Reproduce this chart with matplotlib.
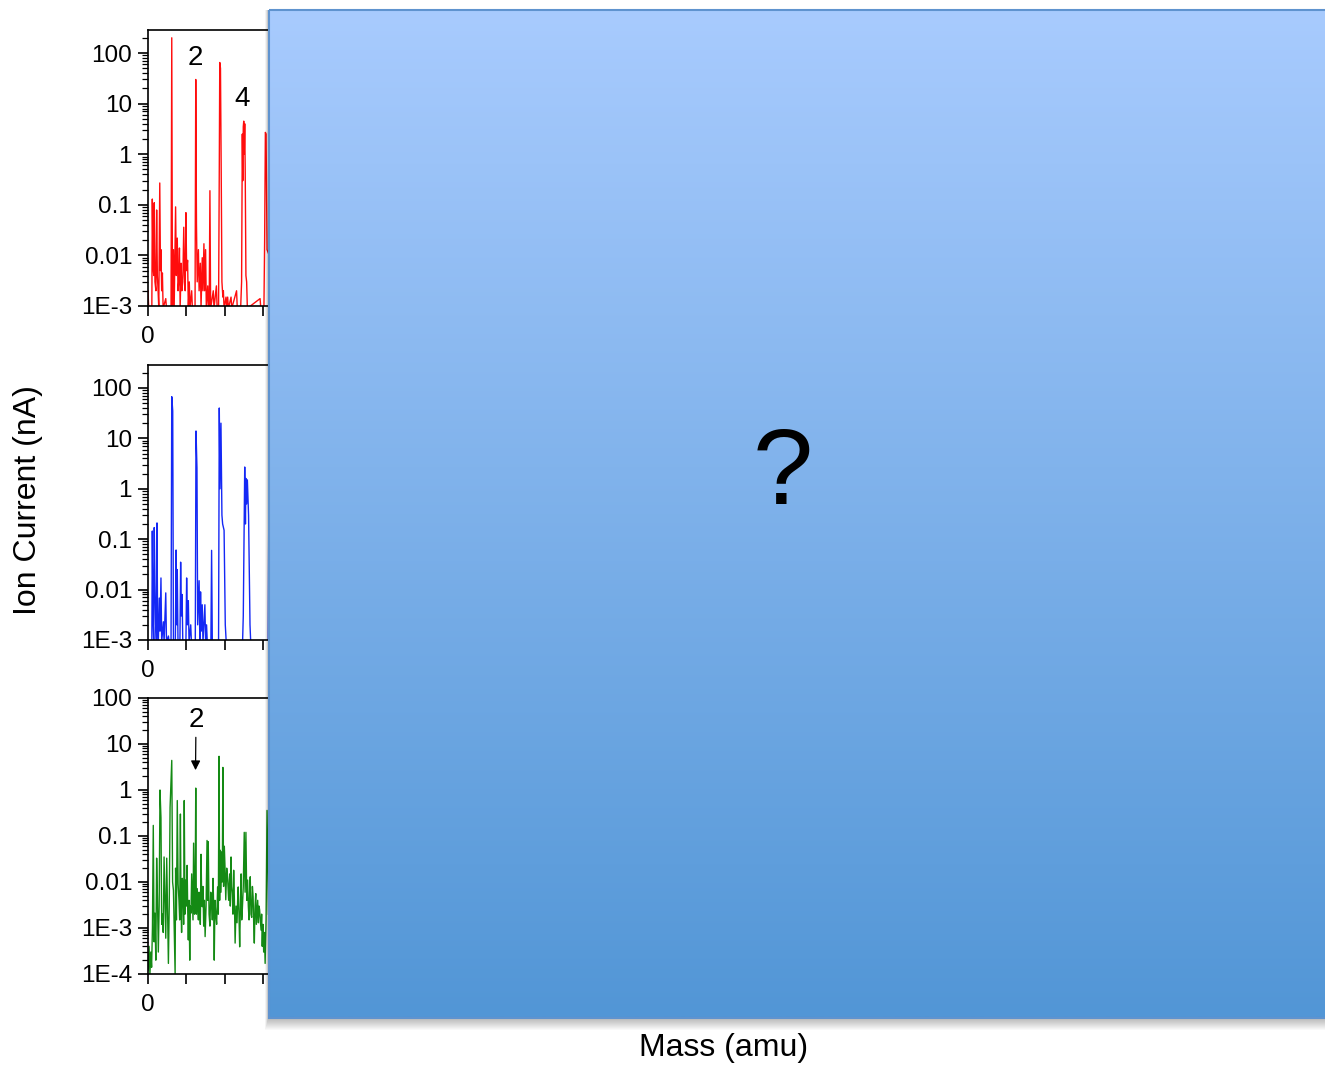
import numpy as np
import matplotlib.pyplot as plt
from matplotlib.ticker import FixedLocator, LogLocator, MultipleLocator, NullFormatter, FuncFormatter
from matplotlib.patches import Rectangle

plt.rcParams['font.family'] = ['Liberation Sans', 'DejaVu Sans']

# visible part of the three mass scans (mass in amu, ion current in nA)
red_mass = [0.00, 0.03, 0.16, 0.18, 0.21, 0.24, 0.26, 0.29, 0.33, 0.36, 0.39, 0.42, 0.45, 0.49,
            0.52, 0.54, 0.57, 0.60, 0.63, 0.74, 0.77, 0.96, 0.99, 1.02, 1.06, 1.09, 1.15, 1.18,
            1.22, 1.25, 1.28, 1.31, 1.34, 1.38, 1.41, 1.45, 1.49, 1.52, 1.55, 1.58, 1.61, 1.65,
            1.68, 1.72, 1.75, 1.82, 1.85, 1.96, 1.99, 2.02, 2.05, 2.10, 2.13, 2.18, 2.21, 2.26,
            2.29, 2.33, 2.36, 2.40, 2.43, 2.49, 2.52, 2.55, 2.58, 2.61, 2.72, 2.75, 2.85, 2.88,
            2.94, 2.97, 2.99, 3.02, 3.05, 3.08, 3.12, 3.14, 3.17, 3.25, 3.28, 3.32, 3.35, 3.46,
            3.49, 3.69, 3.72, 3.86, 3.90, 3.93, 3.95, 3.97, 3.99, 4.01, 4.03, 4.05, 4.08, 4.11, 4.14, 4.67,
            4.70, 4.83, 4.86, 4.89, 4.92, 4.96, 5.05]
red_curr = [0.002, 9e-4, 9e-4, 0.13, 0.006, 0.004, 0.11, 0.003, 0.002, 0.079, 0.004, 0.002, 9e-4, 0.27,
            0.005, 0.013, 0.002, 0.0045, 9e-4, 0.0014, 9e-4, 9e-4, 200, 9e-4, 0.013, 9e-4, 0.091, 0.004,
            0.022, 0.002, 0.003, 0.014, 9e-4, 0.007, 0.002, 0.003, 0.036, 0.004, 0.002, 0.07, 0.005, 0.008,
            9e-4, 0.003, 9e-4, 0.002, 9e-4, 9e-4, 30, 0.04, 0.003, 0.013, 0.002, 0.007, 9e-4, 0.009,
            0.002, 0.017, 0.002, 0.013, 9e-4, 0.0025, 9e-4, 9e-4, 0.19, 9e-4, 0.002, 9e-4, 0.0025, 9e-4,
            9e-4, 0.5, 65, 50, 0.5, 0.003, 0.0015, 0.002, 9e-4, 0.0015, 9e-4, 0.0015, 9e-4, 0.0015,
            9e-4, 0.002, 9e-4, 9e-4, 0.003, 2.5, 0.3, 3.5, 4.5, 1.0, 4.0, 0.5, 0.004, 0.003, 9e-4, 0.0014,
            9e-4, 9e-4, 0.02, 2.7, 2.5, 0.013, 0.01]

blue_mass = [0.00, 0.16, 0.18, 0.21, 0.24, 0.26, 0.29, 0.32, 0.35, 0.375, 0.40, 0.43, 0.47, 0.50,
             0.54, 0.57, 0.64, 0.67, 0.74, 0.77, 0.85, 0.88, 0.96, 0.99, 1.03, 1.06, 1.14, 1.17,
             1.20, 1.22, 1.25, 1.33, 1.36, 1.39, 1.42, 1.45, 1.58, 1.61, 1.64, 1.68, 1.71, 1.78,
             1.81, 1.97, 2.00, 2.04, 2.07, 2.13, 2.16, 2.19, 2.22, 2.26, 2.29, 2.37, 2.40, 2.44,
             2.47, 2.62, 2.65, 2.68, 2.94, 2.97, 3.00, 3.04, 3.08, 3.11, 3.17, 3.22, 3.26, 3.94, 3.97,
             4.03, 4.06, 4.08, 4.11, 4.14, 4.19, 4.25, 4.28, 5.01, 5.04, 5.08]
blue_curr = [9e-4, 9e-4, 0.145, 0.003, 9e-4, 0.17, 0.015, 0.002, 9e-4, 0.21, 0.002, 9e-4, 0.0068, 0.0015,
             0.017, 9e-4, 0.0023, 9e-4, 0.0086, 9e-4, 0.0012, 9e-4, 9e-4, 67, 35, 9e-4, 9e-4, 0.061,
             0.002, 0.025, 9e-4, 9e-4, 0.035, 0.003, 0.008, 9e-4, 9e-4, 0.017, 0.002, 0.006, 9e-4, 0.002,
             9e-4, 9e-4, 14, 2.6, 0.002, 0.015, 9e-4, 0.009, 0.0015, 0.005, 9e-4, 0.005, 9e-4, 0.002,
             9e-4, 9e-4, 0.06, 9e-4, 9e-4, 40, 1.0, 20, 0.3, 0.2, 0.15, 0.002, 9e-4, 9e-4, 0.003,
             2.7, 0.2, 1.6, 0.5, 1.5, 0.3, 0.002, 9e-4, 9e-4, 2.3, 2.0]

green_mass = [0.00, 0.01, 0.045, 0.08, 0.115, 0.15, 0.185, 0.22, 0.255, 0.29, 0.325, 0.36, 0.395, 0.43,
              0.465, 0.50, 0.54, 0.57, 0.60, 0.635, 0.67, 0.705, 0.74, 0.78, 0.815, 0.85, 0.885, 0.92,
              0.99, 1.025, 1.06, 1.095, 1.13, 1.15, 1.185, 1.22, 1.255, 1.29, 1.32, 1.35, 1.375, 1.40,
              1.43, 1.46, 1.485, 1.51, 1.54, 1.57, 1.60, 1.63, 1.655, 1.68, 1.71, 1.74, 1.765, 1.79,
              1.82, 1.85, 1.875, 1.90, 1.94, 1.965, 1.99, 2.015, 2.04, 2.07, 2.10, 2.125, 2.15, 2.18,
              2.21, 2.235, 2.26, 2.29, 2.32, 2.35, 2.38, 2.42, 2.46, 2.485, 2.51, 2.545, 2.58, 2.615,
              2.65, 2.68, 2.71, 2.735, 2.76, 2.79, 2.82, 2.86, 2.90, 2.93, 2.96, 2.985, 3.01, 3.04,
              3.07, 3.095, 3.12, 3.15, 3.18, 3.21, 3.24, 3.28, 3.32, 3.36, 3.40, 3.43, 3.46, 3.485,
              3.51, 3.54, 3.57, 3.60, 3.63, 3.67, 3.71, 3.735, 3.76, 3.79, 3.82, 3.85, 3.88, 3.905,
              3.93, 3.97, 4.01, 4.045, 4.08, 4.115, 4.15, 4.18, 4.21, 4.235, 4.26, 4.29, 4.32, 4.35,
              4.38, 4.405, 4.43, 4.46, 4.49, 4.515, 4.54, 4.57, 4.60, 4.625, 4.65, 4.68, 4.71, 4.735,
              4.76, 4.79, 4.82, 4.85, 4.88, 4.92, 4.96, 5.02]
green_curr = [0.00012, 0.00013, 0.0004, 0.0001, 0.0003, 0.00014, 0.001, 0.17, 0.0005, 0.0021, 0.0002, 0.033, 0.004, 0.0003,
              0.003, 1.0, 0.25, 0.0012, 0.002, 0.0008, 0.035, 0.005, 0.0006, 0.033, 0.002, 0.00017, 0.003, 0.42,
              4.4, 0.01, 0.0066, 0.0009, 0.0001, 0.02, 0.0015, 0.59, 0.009, 0.004, 0.0015, 0.3, 0.003, 0.0008,
              0.012, 0.0066, 0.0012, 0.59, 0.002, 0.011, 0.003, 0.023, 0.0025, 0.00055, 0.004, 0.0002, 0.003, 0.0021,
              0.015, 0.0041, 0.0015, 0.07, 0.002, 0.006, 1.1, 0.002, 0.0072, 0.003, 0.0015, 0.006, 0.0041, 0.0012,
              0.04, 0.005, 0.0029, 0.008, 0.0011, 0.004, 0.00065, 0.003, 0.08, 0.004, 0.075, 0.002, 0.0011, 0.006,
              0.0041, 0.0015, 0.012, 0.003, 0.0002, 0.004, 0.0021, 0.0012, 0.0078, 0.002, 5.4, 0.004, 0.049, 0.006,
              0.045, 0.01, 3.1, 0.008, 0.06, 0.02, 0.0041, 0.02, 0.011, 0.004, 0.015, 0.003, 0.035, 0.008,
              0.0056, 0.002, 0.018, 0.004, 0.00047, 0.003, 0.0013, 0.004, 0.0078, 0.002, 0.00039, 0.003, 0.015, 0.0015,
              0.0025, 0.008, 0.12, 0.006, 0.12, 0.004, 0.011, 0.003, 0.0015, 0.006, 0.013, 0.002, 0.0017, 0.008,
              0.0048, 0.0012, 0.00047, 0.003, 0.0056, 0.0012, 0.0021, 0.004, 0.0013, 0.003, 0.0025, 0.0015, 0.0009, 0.002,
              0.0004, 0.0012, 0.0003, 0.0008, 0.00017, 0.0015, 0.36, 0.002]

tick_names = {100: '100', 10: '10', 1: '1', 0.1: '0.1', 0.01: '0.01', 1e-3: '1E-3', 1e-4: '1E-4'}

W, H = 1325, 1067
fig = plt.figure(figsize=(W / 100, H / 100), dpi=100)


def panel(top, bottom, mass, curr, color, ymin, ymax):
    ax = fig.add_axes([148 / W, 1 - bottom / H, 1152 / W, (bottom - top) / H])
    ax.plot(mass, curr, color=color, lw=1.0)
    ax.set_yscale('log')
    ax.set_ylim(ymin, ymax)
    ax.set_xlim(0, 48)
    decades = [v for v in tick_names if ymin <= v <= ymax]
    ax.yaxis.set_major_locator(FixedLocator(decades))
    ax.yaxis.set_major_formatter(FuncFormatter(lambda v, p: tick_names.get(round(v, 6), '')))
    ax.yaxis.set_minor_locator(LogLocator(base=10, subs=np.arange(2, 10), numticks=20))
    ax.yaxis.set_minor_formatter(NullFormatter())
    ax.xaxis.set_major_locator(MultipleLocator(8))
    ax.xaxis.set_minor_locator(MultipleLocator(1.6))
    ax.xaxis.set_major_formatter(FuncFormatter(lambda v, p: '%d' % v))
    ax.tick_params(which='major', direction='out', length=7.5, width=1.2, labelsize=17.5, pad=4)
    ax.tick_params(axis='x', which='major', pad=7)
    ax.tick_params(which='minor', direction='out', length=4, width=0.9)
    ax.tick_params(axis='x', which='minor', length=7.5, width=1.2)
    for s in ax.spines.values():
        s.set_linewidth(1.2)
    return ax


ax1 = panel(30, 306, red_mass, red_curr, '#ff0d0d', 1e-3, 285)
ax2 = panel(365, 640, blue_mass, blue_curr, '#1428f5', 1e-3, 285)
ax3 = panel(698, 974, green_mass, green_curr, '#148a14', 1e-4, 100)

ax1.text(1.96, 80, '2', fontsize=20, ha='center', va='center')
ax1.text(3.92, 12.5, '4', fontsize=20, ha='center', va='center')
ax3.annotate('2', xy=(1.98, 2.7), xytext=(2.0, 33), fontsize=20, ha='center', va='center',
             arrowprops=dict(arrowstyle='-|>', color='black', lw=0.9, mutation_scale=14, shrinkA=1, shrinkB=0))

fig.text(28 / W, 1 - 500 / H, 'Ion Current (nA)', rotation=90, fontsize=23, ha='center', va='center')
fig.text(724 / W, 1 - 1048 / H, 'Mass (amu)', fontsize=23, ha='center', va='center')

# the blue box covering the rest of the figure
ov = fig.add_axes([0, 0, 1, 1])
ov.set_zorder(10)
ov.patch.set_alpha(0)
ov.axis('off')
for i in range(12):
    ov.add_patch(Rectangle((269 - 4 + i * 0.3, 10), W, 1008 + 12 - i, facecolor='black',
                           alpha=0.025, lw=0, zorder=1))
top_c = np.array([168, 203, 254]) / 255
bot_c = np.array([82, 150, 214]) / 255
t = np.linspace(0, 1, 256)[:, None]
grad = (top_c[None, :] * (1 - t) + bot_c[None, :] * t)[:, None, :]
ov.imshow(grad, extent=(269, W + 20, 1018, 10), aspect='auto', zorder=2, interpolation='bilinear')
ov.add_patch(Rectangle((269, 10), W, 1008, facecolor='none', edgecolor='#5f93cf', lw=1.5, zorder=3))
ov.set_xlim(0, W)
ov.set_ylim(H, 0)
ov.text(783, 476, '?', fontsize=78, ha='center', va='center', zorder=4)

fig.savefig('out.png', dpi=100)
